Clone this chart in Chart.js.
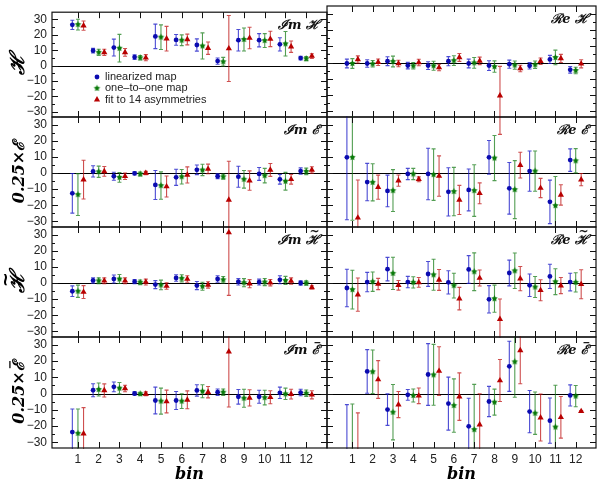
<!DOCTYPE html>
<html>
<head>
<meta charset="utf-8">
<script src="https://cdn.jsdelivr.net/npm/chart.js@4/dist/chart.umd.min.js"></script>
<style>
html, body { margin: 0; padding: 0; background: #fff; }
#wrap { position: relative; width: 600px; height: 481px; overflow: hidden; }
#wrap canvas { position: absolute; left: 0; top: 0; }
</style>
</head>
<body>
<div id="wrap"></div>
<script>
// bins and axis ticks
const bins = [1, 2, 3, 4, 5, 6, 7, 8, 9, 10, 11, 12];
const yTicks = [-30, -20, -10, 0, 10, 20, 30];
const seriesNames = ['linearized map', 'one\u2013to\u2013one map', 'fit to 14 asymmetries'];

// Im H
const imH_lin = [26.5, 9.7, 11.7, 5.5, 19.0, 16.7, 13.4, 2.9, 16.5, 16.5, 13.8, 4.9];
const imH_linErr = [3.0, 1.5, 5.5, 1.5, 8.0, 3.5, 4.0, 2.0, 7.0, 4.3, 4.3, 1.2];
const imH_one = [26.7, 8.6, 11.3, 5.1, 18.5, 16.5, 12.8, 2.5, 17.0, 16.3, 14.2, 4.5];
const imH_oneErr = [3.5, 2.0, 9.0, 1.5, 8.0, 3.5, 8.5, 2.8, 7.5, 4.5, 8.0, 1.3];
const imH_fit = [26.0, 8.6, 8.6, 5.1, 17.5, 17.0, 11.3, 11.1, 17.9, 17.3, 12.3, 6.2];
const imH_fitErr = [3.0, 2.0, 2.5, 2.0, 8.0, 3.5, 4.0, 21.5, 7.0, 5.0, 3.7, 1.5];

// Re H
const reH_lin = [-0.6, -0.6, 0.8, -1.9, -1.9, 0.8, -0.6, -1.9, -1.0, -2.0, 1.9, -4.5];
const reH_linErr = [2.7, 2.3, 2.7, 2.0, 2.4, 2.8, 2.7, 3.0, 2.5, 2.0, 2.5, 2.0];
const reH_one = [-0.6, -0.8, 0.6, -2.0, -2.0, 1.2, -0.2, -2.5, -1.6, -1.4, 3.1, -4.9];
const reH_oneErr = [3.0, 2.0, 3.3, 2.0, 2.8, 3.0, 3.3, 3.5, 2.5, 2.3, 4.5, 2.0];
const reH_fit = [1.9, 0.2, -0.6, 0.0, -3.1, 3.1, 1.0, -20.4, -3.7, 0.8, 2.5, -0.8];
const reH_fitErr = [2.2, 2.0, 2.0, 2.0, 2.0, 2.4, 2.3, 18.0, 2.0, 2.0, 2.5, 2.5];

// Im E (x0.25)
const imE_lin = [-12.6, 1.0, -2.0, -0.2, -7.4, -2.7, 2.0, -2.0, -2.3, -0.6, -3.9, 1.2];
const imE_linErr = [12.3, 3.5, 2.5, 1.0, 9.0, 5.0, 3.0, 1.5, 6.5, 4.0, 3.0, 2.0];
const imE_one = [-13.4, 0.8, -2.7, -0.6, -7.8, -2.3, 1.9, -2.3, -3.9, -1.6, -5.1, 1.0];
const imE_oneErr = [13.0, 3.5, 3.0, 1.2, 8.5, 4.5, 3.5, 1.5, 5.5, 4.5, 5.5, 2.0];
const imE_fit = [-4.1, 1.0, -2.0, 0.0, -8.4, -1.2, 2.5, -16.7, -4.7, 1.9, -3.9, 1.9];
const imE_fitErr = [12.0, 3.0, 2.0, 1.0, 6.5, 5.0, 3.0, 24.0, 6.0, 4.0, 3.0, 2.0];

// Re E (x0.25)
const reE_lin = [9.7, -5.6, -11.1, -0.6, -0.6, -11.7, -10.5, 9.7, -9.5, 1.2, -17.9, 8.0];
const reE_linErr = [38.7, 11.6, 9.8, 3.5, 16.0, 15.0, 13.0, 10.5, 16.0, 12.5, 13.5, 7.0];
const reE_one = [9.7, -5.8, -10.9, -0.6, -1.0, -11.5, -10.9, 9.3, -10.3, 1.2, -20.2, 7.6];
const reE_oneErr = [39.0, 11.5, 13.0, 3.5, 16.0, 15.0, 16.0, 14.0, 18.0, 12.5, 18.0, 7.5];
const reE_fit = [-27.8, -8.8, -4.7, -3.9, -1.9, -16.7, -12.6, 40.0, 4.9, -9.3, -13.6, -4.1];
const reE_fitErr = [23.5, 7.5, 3.5, 1.5, 12.5, 9.0, 6.5, 16.0, 8.0, 6.0, 6.3, 3.8];

// Im H-tilde
const imHt_lin = [-5.1, 1.6, 2.5, 0.8, -1.0, 3.1, -1.6, 2.5, 0.8, 0.6, 2.0, 0.0];
const imHt_linErr = [3.3, 1.7, 2.5, 1.3, 2.5, 2.0, 2.5, 2.0, 2.0, 1.8, 2.5, 1.3];
const imHt_one = [-5.1, 1.4, 2.5, 0.4, -1.2, 2.9, -2.0, 2.0, 0.2, 0.6, 1.6, 0.0];
const imHt_oneErr = [3.8, 1.8, 2.8, 1.5, 3.0, 2.2, 2.5, 2.0, 2.5, 2.2, 2.5, 1.3];
const imHt_fit = [-5.6, 1.4, 1.4, 0.6, -1.9, 2.5, -1.2, 31.3, -0.4, 0.2, 1.2, -2.7];
const imHt_fitErr = [4.0, 1.8, 1.8, 1.8, 2.0, 2.0, 2.0, 39.0, 2.5, 2.0, 2.0, 1.0];

// Re H-tilde
const reHt_lin = [-3.1, 0.6, 8.6, 0.6, 5.6, 0.4, 8.4, -10.1, 6.2, -1.4, 4.1, 0.6];
const reHt_linErr = [11.6, 6.0, 7.3, 3.5, 7.7, 7.2, 8.6, 8.5, 8.0, 7.0, 7.5, 5.5];
const reHt_one = [-4.1, 0.8, 6.0, 0.4, 5.1, -1.6, 7.0, -9.7, 7.6, -2.5, 0.8, 0.4];
const reHt_oneErr = [12.0, 6.0, 10.0, 3.5, 9.6, 7.7, 11.7, 8.4, 11.0, 6.5, 8.0, 6.0];
const reHt_fit = [-7.2, -0.6, -1.4, 0.4, 1.9, -9.7, 3.1, -22.4, 2.7, -4.5, -1.6, -0.8];
const reHt_fitErr = [10.3, 3.5, 3.0, 3.0, 6.5, 7.0, 5.0, 12.5, 7.5, 6.5, 5.0, 9.0];

// Im E-bar (x0.25)
const imEb_lin = [-23.7, 2.0, 4.1, 0.0, -4.3, -4.3, 1.9, 0.8, -2.0, -2.0, 0.4, 0.6];
const imEb_linErr = [14.2, 4.0, 3.0, 1.0, 8.2, 5.5, 3.5, 2.0, 4.5, 4.0, 3.5, 2.0];
const imEb_one = [-24.5, 2.5, 3.3, -0.2, -4.7, -4.7, 1.4, 0.8, -2.9, -2.5, -0.2, 0.2];
const imEb_oneErr = [15.0, 4.0, 3.5, 1.0, 8.0, 4.5, 4.0, 2.0, 5.5, 4.5, 3.5, 2.0];
const imEb_fit = [-24.7, 1.9, 3.1, -0.2, -4.9, -3.9, 0.8, 25.7, -2.7, -2.3, -0.4, -0.8];
const imEb_fitErr = [16.0, 4.0, 2.0, 1.2, 7.0, 5.5, 3.5, 34.0, 5.0, 4.0, 3.0, 2.5];

// Re E-bar (x0.25)
const reEb_lin = [-40.0, 13.6, -9.9, -0.8, 11.7, -6.2, -20.2, -4.9, 16.7, -11.1, -16.7, -1.2];
const reEb_linErr = [33.2, 13.4, 9.7, 3.3, 19.0, 16.3, 17.3, 9.3, 15.4, 13.0, 13.9, 6.5];
const reEb_one = [-40.0, 13.4, -11.5, -1.2, 11.5, -7.4, -22.2, -5.3, 19.5, -12.1, -20.6, -1.6];
const reEb_oneErr = [33.6, 13.4, 17.0, 4.0, 18.7, 16.4, 27.8, 8.0, 21.8, 13.0, 25.7, 6.5];
const reEb_fit = [-42.0, 8.6, -6.8, -1.4, 13.8, -1.9, -19.1, 8.0, 26.5, -14.8, -14.6, -10.9];
const reEb_fitErr = [30.1, 11.6, 8.0, 4.8, 15.0, 14.6, 19.0, 12.9, 20.5, 14.4, 12.8, 0.5];

// accent: '' none, 'tilde', 'bar' (drawn over the last letter)
const panels = [
  { row: 0, col: 0, label: '\u2110m \u210B', ytitle: '\u210B', accent: '', legend: true,
    vals: [imH_lin, imH_one, imH_fit], errs: [imH_linErr, imH_oneErr, imH_fitErr] },
  { row: 0, col: 1, label: '\u211Be \u210B', accent: '',
    vals: [reH_lin, reH_one, reH_fit], errs: [reH_linErr, reH_oneErr, reH_fitErr] },
  { row: 1, col: 0, label: '\u2110m \u2130', ytitle: '0.25\u00D7\u2130', accent: '',
    vals: [imE_lin, imE_one, imE_fit], errs: [imE_linErr, imE_oneErr, imE_fitErr] },
  { row: 1, col: 1, label: '\u211Be \u2130', accent: '',
    vals: [reE_lin, reE_one, reE_fit], errs: [reE_linErr, reE_oneErr, reE_fitErr] },
  { row: 2, col: 0, label: '\u2110m \u210B', ytitle: '\u210B', accent: 'tilde',
    vals: [imHt_lin, imHt_one, imHt_fit], errs: [imHt_linErr, imHt_oneErr, imHt_fitErr] },
  { row: 2, col: 1, label: '\u211Be \u210B', accent: 'tilde',
    vals: [reHt_lin, reHt_one, reHt_fit], errs: [reHt_linErr, reHt_oneErr, reHt_fitErr] },
  { row: 3, col: 0, label: '\u2110m \u2130', ytitle: '0.25\u00D7\u2130', accent: 'bar',
    vals: [imEb_lin, imEb_one, imEb_fit], errs: [imEb_linErr, imEb_oneErr, imEb_fitErr] },
  { row: 3, col: 1, label: '\u211Be \u2130', accent: 'bar',
    vals: [reEb_lin, reEb_one, reEb_fit], errs: [reEb_linErr, reEb_oneErr, reEb_fitErr] }
];

// layout of the panel grid (pixels)
const colEdges = [[52, 327], [327, 597]];
const rowTops = [6, 117, 227, 337];
const rowBottoms = [117, 227, 337, 448];

function starImage(color, r) {
  const c = document.createElement('canvas');
  const s = Math.ceil(r * 2) + 2;
  c.width = s; c.height = s;
  const g = c.getContext('2d');
  g.fillStyle = color;
  g.beginPath();
  for (let i = 0; i < 10; i++) {
    const a = -Math.PI / 2 + i * Math.PI / 5;
    const rr = i % 2 ? r * 0.5 : r;
    g.lineTo(s / 2 + rr * Math.cos(a), s / 2 + rr * Math.sin(a));
  }
  g.closePath();
  g.fill();
  return c;
}

const seriesStyle = [
  { shift: -0.27, color: '#0b0bb0', bar: 'rgba(30,30,200,0.8)', style: 'circle', r: 2.4 },
  { shift: 0, color: '#0a7a0a', bar: 'rgba(25,125,25,0.75)', style: starImage('#0a7a0a', 3.4), r: 3.4 },
  { shift: 0.27, color: '#b80000', bar: 'rgba(190,20,20,0.75)', style: 'triangle', r: 3.6 }
];

// text whose last letter gets a tilde or a bar; x is the text's right end, y the baseline
function accentText(ctx, text, accent, x, y, size) {
  ctx.textAlign = 'right';
  ctx.textBaseline = 'alphabetic';
  ctx.fillText(text, x, y);
  if (!accent) return;
  const lastW = ctx.measureText(text.slice(-1)).width;
  const cx = x - lastW / 2 + size * 0.12;
  const top = y - size * 0.78;
  if (accent === 'tilde') {
    ctx.save();
    ctx.font = 'bold ' + Math.round(size * 0.9) + 'px "DejaVu Sans"';
    ctx.textAlign = 'center';
    ctx.fillText('~', cx, top + size * 0.12);
    ctx.restore();
  } else {
    ctx.fillRect(cx - lastW * 0.38, top - size * 0.14, lastW * 0.72, Math.max(1.2, size * 0.08));
  }
}

const deco = {
  id: 'deco',
  beforeDatasetsDraw(chart, args, opts) {
    const ctx = chart.ctx, ca = chart.chartArea;
    const xs = chart.scales.x, ys = chart.scales.y;
    ctx.save();
    // zero line
    const y0 = Math.round(ys.getPixelForValue(0)) + 0.5;
    ctx.strokeStyle = '#000';
    ctx.lineWidth = 1;
    ctx.beginPath();
    ctx.moveTo(ca.left, y0); ctx.lineTo(ca.right, y0);
    ctx.stroke();
    // error bars
    ctx.beginPath();
    ctx.rect(ca.left, ca.top - 1, ca.right - ca.left, ca.bottom - ca.top + 2);
    ctx.clip();
    chart.data.datasets.forEach(ds => {
      ctx.strokeStyle = ds.errColor;
      ctx.lineWidth = 1.1;
      ds.data.forEach(pt => {
        const px = xs.getPixelForValue(pt.x);
        const lo = ys.getPixelForValue(pt.y - pt.e);
        const hi = ys.getPixelForValue(pt.y + pt.e);
        ctx.beginPath();
        ctx.moveTo(px, lo); ctx.lineTo(px, hi);
        ctx.moveTo(px - 2, lo); ctx.lineTo(px + 2, lo);
        ctx.moveTo(px - 2, hi); ctx.lineTo(px + 2, hi);
        ctx.stroke();
      });
    });
    ctx.restore();
  },
  afterDatasetsDraw(chart, args, opts) {
    const ctx = chart.ctx, ca = chart.chartArea;
    const xs = chart.scales.x, ys = chart.scales.y;
    ctx.save();
    ctx.strokeStyle = '#111';
    ctx.lineWidth = 1.2;
    ctx.strokeRect(ca.left, ca.top, ca.right - ca.left, ca.bottom - ca.top);
    ctx.lineWidth = 1;
    ctx.beginPath();
    for (let v = -30; v <= 30; v += 5) {
      const py = Math.round(ys.getPixelForValue(v)) + 0.5;
      const len = v % 10 === 0 ? 6 : 3;
      ctx.moveTo(ca.left, py); ctx.lineTo(ca.left + len, py);
      ctx.moveTo(ca.right, py); ctx.lineTo(ca.right - len, py);
    }
    bins.forEach(b => {
      const px = Math.round(xs.getPixelForValue(b)) + 0.5;
      ctx.moveTo(px, ca.top); ctx.lineTo(px, ca.top + 6);
      ctx.moveTo(px, ca.bottom); ctx.lineTo(px, ca.bottom - 6);
    });
    ctx.stroke();
    // panel label
    ctx.fillStyle = '#111';
    ctx.font = 'italic bold 13px "DejaVu Serif"';
    accentText(ctx, opts.label, opts.accent, ca.right - 7, ca.top + 17, 13);
    // y title, rotated, on the left column only
    if (opts.ytitle) {
      const size = opts.ytitle.length > 1 ? 16 : 20;
      ctx.save();
      ctx.font = 'italic bold ' + size + 'px "DejaVu Serif"';
      const w = ctx.measureText(opts.ytitle).width;
      ctx.translate(24, (ca.top + ca.bottom) / 2);
      ctx.rotate(-Math.PI / 2);
      ctx.fillStyle = '#000';
      accentText(ctx, opts.ytitle, opts.accent, w / 2, 0, size);
      ctx.restore();
    }
    // legend
    if (opts.legend) {
      ctx.font = '11px "Liberation Sans", Arial, sans-serif';
      ctx.textAlign = 'left';
      ctx.textBaseline = 'middle';
      chart.data.datasets.forEach((ds, i) => {
        const lx = 97, ly = 77 + i * 11.3;
        ctx.fillStyle = ds.backgroundColor;
        Chart.helpers.drawPoint(ctx, { pointStyle: ds.pointStyle, radius: ds.pointRadius, borderWidth: 0 }, lx, ly);
        ctx.fillStyle = '#222';
        ctx.fillText(ds.label, 105, ly);
      });
    }
    ctx.restore();
  }
};

const wrap = document.getElementById('wrap');

panels.forEach(p => {
  const cv = document.createElement('canvas');
  cv.width = 600; cv.height = 481;
  wrap.appendChild(cv);
  const [x0, x1] = colEdges[p.col];
  const top = rowTops[p.row], bottom = rowBottoms[p.row];
  const showY = p.col === 0, showX = p.row === 3;

  const datasets = seriesStyle.map((s, i) => ({
    label: seriesNames[i],
    data: bins.map((b, k) => ({ x: b + s.shift, y: p.vals[i][k], e: p.errs[i][k] })),
    pointStyle: s.style,
    pointRadius: s.r,
    backgroundColor: s.color,
    borderColor: s.color,
    borderWidth: 0,
    errColor: s.bar,
    clip: 2
  }));

  new Chart(cv, {
    type: 'scatter',
    data: { datasets },
    options: {
      responsive: false,
      animation: false,
      events: [],
      layout: {
        padding: { left: showY ? 0 : x0, right: 600 - x1, top: top, bottom: showX ? 0 : 481 - bottom }
      },
      plugins: {
        legend: { display: false },
        tooltip: { enabled: false },
        deco: { label: p.label, accent: p.accent, ytitle: p.ytitle, legend: !!p.legend }
      },
      scales: {
        x: {
          type: 'linear', min: -0.25, max: 13, display: showX,
          afterFit: showX ? (s => { s.height = 481 - bottom; }) : undefined,
          afterBuildTicks: s => { s.ticks = bins.map(v => ({ value: v })); },
          grid: { display: false, drawTicks: false },
          border: { display: false },
          ticks: { color: '#222', padding: 4, maxRotation: 0, autoSkip: false,
                   font: { family: '"Liberation Sans", Arial, sans-serif', size: 12 } },
          title: { display: true, text: 'bin', color: '#000', padding: 0,
                   font: { family: '"DejaVu Serif", serif', size: 16, style: 'italic', weight: 'bold', lineHeight: 0.8 } }
        },
        y: {
          type: 'linear', min: -33.5, max: 34.75, display: showY,
          afterFit: showY ? (s => { s.width = x0; }) : undefined,
          afterBuildTicks: s => { s.ticks = yTicks.map(v => ({ value: v })); },
          grid: { display: false, drawTicks: false },
          border: { display: false },
          ticks: { color: '#222', padding: 5,
                   font: { family: '"Liberation Sans", Arial, sans-serif', size: 12 },
                   callback: v => (v < 0 ? '\u2212' + (-v) : '' + v) }
        }
      }
    },
    plugins: [deco]
  });
});
</script>
</body>
</html>
